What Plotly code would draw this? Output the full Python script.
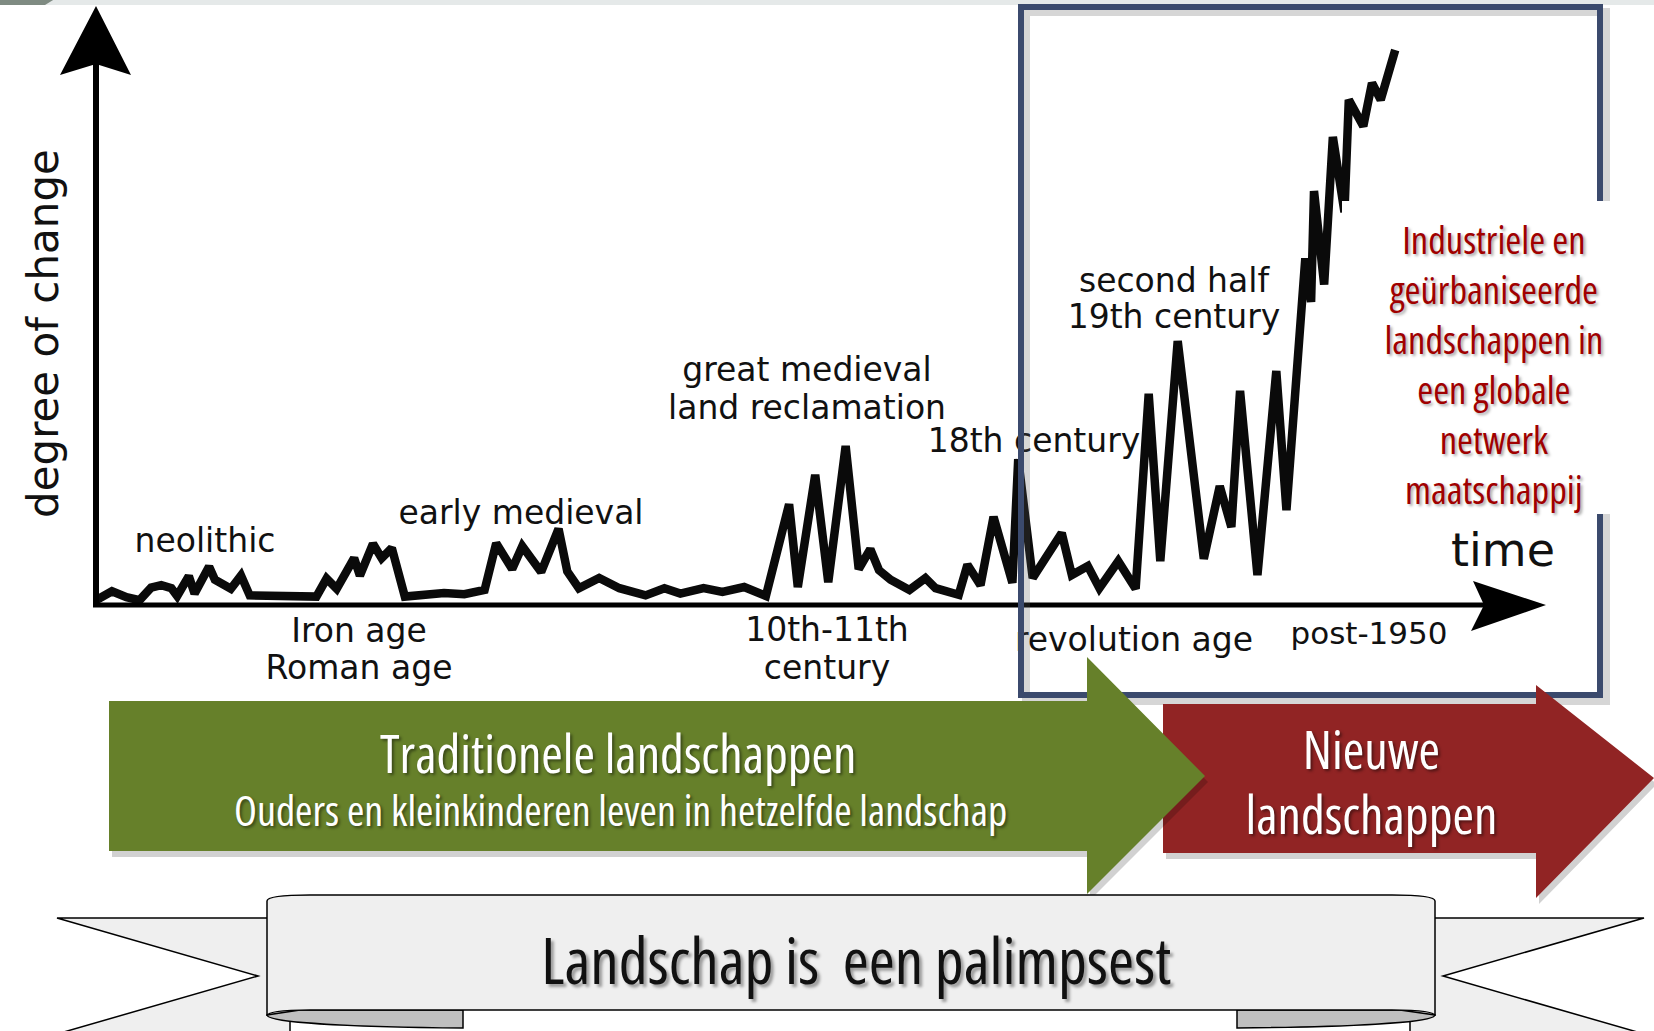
import plotly.graph_objects as go

# ---------------- data ----------------
time_idx = [0.0, 1.1, 2.1, 3.0, 3.8, 4.5, 5.2, 5.6, 6.4, 6.8, 7.8, 8.2, 9.3, 10.0, 10.6,
            15.2, 15.9, 16.6, 17.8, 18.2, 19.1, 19.7, 20.4, 21.3, 24.0, 25.4, 26.8, 27.6,
            28.7, 29.4, 30.7, 31.9, 32.5, 33.3, 34.7, 36.1, 37.9, 39.2, 40.3, 41.9, 43.2,
            44.7, 46.2, 47.8, 48.4, 49.6, 50.5, 51.7, 52.6, 53.4, 54.0, 54.8, 56.1, 57.2,
            57.9, 59.5, 60.1, 61.0, 61.9, 63.2, 63.6, 64.6, 66.6, 67.3, 68.4, 69.2, 70.5,
            71.7, 72.6, 73.4, 74.6, 76.4, 77.5, 78.3, 78.9, 80.1, 81.4, 82.1, 83.4, 83.8,
            84.0, 84.7, 85.3, 86.1, 86.4, 87.4, 88.0, 88.6, 89.6]
change = [0.8, 2.3, 1.3, 0.8, 2.9, 3.3, 2.8, 1.5, 4.8, 1.9, 6.4, 4.2, 2.7, 4.9, 1.6,
          1.4, 4.4, 2.7, 7.8, 4.9, 10.2, 7.8, 9.5, 1.4, 2.0, 1.8, 2.5, 10.3,
          6.0, 9.8, 5.5, 12.7, 5.6, 2.8, 4.5, 2.8, 1.6, 2.8, 1.9, 2.8, 2.2,
          3.0, 1.5, 16.8, 3.0, 21.7, 3.8, 26.5, 6.0, 9.3, 5.8, 4.2, 2.5, 4.5,
          2.8, 1.7, 6.7, 3.3, 14.7, 3.7, 24.3, 4.5, 12.0, 5.0, 6.5, 2.8, 7.3,
          2.7, 35.2, 7.3, 44.0, 7.7, 19.8, 13.0, 35.7, 5.0, 39.0, 15.8, 57.8, 50.5,
          69.0, 53.4, 78.0, 65.5, 84.2, 79.8, 87.0, 84.2, 92.5]

period_labels = ["neolithic", "Iron age", "Roman age", "early medieval", "great medieval",
                 "land reclamation", "10th-11th", "century", "18th century", "second half",
                 "19th century", "revolution age", "post-1950", "time"]
y_title = "degree of change"
box_lines = ["Industriele en", "geürbaniseerde", "landschappen in", "een globale",
             "netwerk", "maatschappij"]
green_title = "Traditionele landschappen"
green_sub = "Ouders en kleinkinderen leven in hetzelfde landschap"
red_lines = ["Nieuwe", "landschappen"]
banner_text = "Landschap is&nbsp; een palimpsest"

# ---------------- geometry (canvas pixels) ----------------
W, H = 1654, 1031
X0, XS = 96.0, 14.5     # pixel of time 0, pixels per time unit
Y0, YS = 605.0, 6.0     # pixel of change 0, pixels per change unit


def dx(px):
    return (px - X0) / XS


def dy(py):
    return (Y0 - py) / YS


def fmt(p):
    return f"{dx(p[0]):.4f},{dy(p[1]):.4f}"


def poly(pts):
    return "M " + " L ".join(fmt(p) for p in pts) + " Z"


label_pos = [(205, 544), (359, 634), (359, 671), (521, 516), (807, 373), (807, 411),
             (827, 633), (827, 671), (1034, 444), (1174, 284), (1174, 320), (1134, 643),
             (1369, 636), (1503, 554)]
label_size = [33, 33, 33, 33, 33, 33, 33, 33, 33, 33, 33, 33, 31, 46]

CF = "Open Sans"   # rendered condensed (font-stretch) by the post script below

fig = go.Figure()

fig.add_trace(go.Scatter(
    x=time_idx, y=change, mode="lines",
    line=dict(color="#0a0a0a", width=8.5),
    hoverinfo="skip", showlegend=False))

fig.add_trace(go.Scatter(
    x=[dx(p[0]) for p in label_pos], y=[dy(p[1]) for p in label_pos],
    mode="text", text=period_labels, textposition="middle center",
    textfont=dict(family="DejaVu Sans", size=label_size, color="#111111"),
    cliponaxis=False, hoverinfo="skip", showlegend=False))

shapes = []
# top photo strip
shapes.append(dict(type="path", path=poly([(0, -3), (1654, -3), (1654, 5), (0, 5)]),
                   fillcolor="#e5e9e9", line=dict(width=0), layer="above"))
shapes.append(dict(type="path", path=poly([(0, -3), (58, -3), (45, 5), (0, 5)]),
                   fillcolor="#7f8b82", line=dict(width=0), layer="above"))
# y axis arrow
shapes.append(dict(type="path", path=poly([(93, 607), (99, 607), (99, 60), (93, 60)]),
                   fillcolor="black", line=dict(width=0), layer="above"))
shapes.append(dict(type="path", path=poly([(96, 6), (131, 75), (96, 64), (60, 75)]),
                   fillcolor="black", line=dict(width=0), layer="above"))
# x axis arrow
shapes.append(dict(type="path", path=poly([(93, 602.5), (1488, 602.5), (1488, 607.5), (93, 607.5)]),
                   fillcolor="black", line=dict(width=0), layer="above"))
shapes.append(dict(type="path", path=poly([(1546, 605), (1471, 631), (1484, 605), (1473, 581)]),
                   fillcolor="black", line=dict(width=0), layer="above"))
# framed box (shadow + frame)
shapes.append(dict(type="path", path=poly([(1026, 12), (1606, 12), (1606, 701), (1026, 701)]),
                   fillcolor="rgba(0,0,0,0)", line=dict(color="rgba(90,90,90,0.25)", width=8),
                   layer="above"))
shapes.append(dict(type="path", path=poly([(1021, 7), (1600, 7), (1600, 695), (1021, 695)]),
                   fillcolor="rgba(0,0,0,0)", line=dict(color="#3b4a6d", width=6),
                   layer="above"))
# white text panel
shapes.append(dict(type="path", path=poly([(1342, 201), (1628, 201), (1628, 514), (1342, 514)]),
                   fillcolor="white", line=dict(width=0), layer="above"))
# red arrow (shadow + body)
red_pts = [(1163, 704), (1536, 704), (1536, 685), (1654, 778), (1536, 898), (1536, 853), (1163, 853)]
shapes.append(dict(type="path", path=poly([(x + 3, y + 6) for x, y in red_pts]),
                   fillcolor="rgba(0,0,0,0.18)", line=dict(width=0), layer="above"))
shapes.append(dict(type="path", path=poly(red_pts),
                   fillcolor="#912424", line=dict(width=0), layer="above"))
# green arrow (shadow + body)
green_pts = [(109, 701), (1087, 701), (1087, 657), (1205, 776), (1087, 894), (1087, 851), (109, 851)]
shapes.append(dict(type="path", path=poly([(x + 3, y + 6) for x, y in green_pts]),
                   fillcolor="rgba(0,0,0,0.18)", line=dict(width=0), layer="above"))
shapes.append(dict(type="path", path=poly(green_pts),
                   fillcolor="#66802a", line=dict(width=0), layer="above"))
# banner tails
shapes.append(dict(type="path", path=poly([(57, 918), (290, 918), (290, 1040), (36, 1040), (258, 976)]),
                   fillcolor="#efefef", line=dict(color="black", width=1.5), layer="above"))
shapes.append(dict(type="path", path=poly([(1644, 918), (1410, 918), (1410, 1040), (1665, 1040), (1443, 976)]),
                   fillcolor="#efefef", line=dict(color="black", width=1.5), layer="above"))
# banner folds
fold_l = (f"M {fmt((267, 1015))} C {fmt((267, 1023))} {fmt((360, 1027))} {fmt((463, 1028))} "
          f"L {fmt((463, 1010))} L {fmt((300, 1010))} Z")
fold_r = (f"M {fmt((1435, 1015))} C {fmt((1435, 1023))} {fmt((1342, 1027))} {fmt((1237, 1028))} "
          f"L {fmt((1237, 1010))} L {fmt((1400, 1010))} Z")
for fp in (fold_l, fold_r):
    shapes.append(dict(type="path", path=fp, fillcolor="#bfbfbf",
                       line=dict(color="black", width=1.5), layer="above"))
# banner main band
main = (f"M {fmt((267, 901))} Q {fmt((267, 895))} {fmt((310, 895))} L {fmt((1392, 895))} "
        f"Q {fmt((1435, 895))} {fmt((1435, 901))} L {fmt((1435, 1016))} "
        f"Q {fmt((1435, 1010))} {fmt((1392, 1010))} L {fmt((310, 1010))} "
        f"Q {fmt((267, 1010))} {fmt((267, 1016))} Z")
shapes.append(dict(type="path", path=main, fillcolor="#efefef",
                   line=dict(color="black", width=1.5), layer="above"))

annotations = []
annotations.append(dict(x=dx(1494), y=dy(364), text="<br>".join(box_lines), showarrow=False,
                        xanchor="center", yanchor="middle", align="center",
                        font=dict(family=CF, size=38.5, color="#a00000",
                                  shadow="2px 2px 3px rgba(0,0,0,0.35)")))
annotations.append(dict(x=dx(618), y=dy(752), text=green_title, showarrow=False,
                        font=dict(family=CF, size=52, color="white",
                                  shadow="2px 2px 3px rgba(0,0,0,0.45)")))
annotations.append(dict(x=dx(620), y=dy(809), text=green_sub, showarrow=False,
                        font=dict(family=CF, size=42, color="white",
                                  shadow="2px 2px 3px rgba(0,0,0,0.45)")))
for txt, py in zip(red_lines, [748, 813]):
    annotations.append(dict(x=dx(1371), y=dy(py), text=txt, showarrow=False,
                            font=dict(family=CF, size=52, color="white",
                                      shadow="2px 2px 3px rgba(0,0,0,0.45)")))
annotations.append(dict(x=dx(856), y=dy(959), text=banner_text, showarrow=False,
                        font=dict(family=CF, size=63, color="#111111",
                                  shadow="3px 3px 3px rgba(0,0,0,0.35)")))
annotations.append(dict(x=dx(43), y=dy(334), text=y_title, showarrow=False, textangle=-90,
                        font=dict(family="DejaVu Sans", size=42, color="#111111")))

fig.update_layout(
    width=W, height=H, margin=dict(l=0, r=0, t=0, b=0),
    paper_bgcolor="white", plot_bgcolor="white",
    xaxis=dict(range=[dx(0), dx(W)], domain=[0, 1], visible=False, fixedrange=True),
    yaxis=dict(range=[dy(H), dy(0)], domain=[0, 1], visible=False, fixedrange=True),
    shapes=shapes, annotations=annotations, showlegend=False)

narrow_js = """
document.body.style.margin = '0';
document.body.style.overflow = 'hidden';
var gd = document.getElementById('{plot_id}');
gd.querySelectorAll('.annotation-text').forEach(function (t) {
  var fam = (t.style.fontFamily || '');
  if (fam.indexOf('Open Sans') >= 0) {
    var fill = (t.style.fill || '');
    t.style.fontStretch = (fill.indexOf('160, 0, 0') >= 0) ? '87.5%' : '75%';
  }
});
"""

fig.write_html("out.html", config={"displayModeBar": False}, post_script=narrow_js)
